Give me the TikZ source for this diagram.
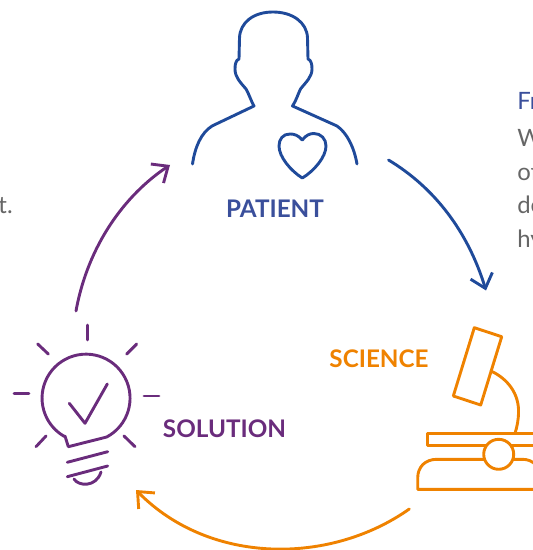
\documentclass[tikz,border=0pt]{standalone}
\usepackage{fontspec}
\setmainfont{Lato}
\usetikzlibrary{arrows.meta}
\definecolor{patientblue}{HTML}{1F4A9A}
\definecolor{patienttext}{HTML}{3A4F9B}
\definecolor{solutionpurple}{HTML}{6A2C7C}
\definecolor{scienceorange}{HTML}{EF8200}
\definecolor{bodygray}{HTML}{666666}
\tikzset{
    iconline/.style={line width=1.65pt,line cap=round,line join=round},
    cycle arrow/.style={iconline,-{Straight Barb[length=7.5pt,width=13pt,line width=1.65pt]}},
    steplabel/.style={font=\fontsize{13.8}{16}\selectfont\bfseries,inner sep=0pt},
    bodytext/.style={font=\fontsize{13.6}{15}\selectfont,text=bodygray,anchor=base west,inner sep=0pt}
}
\begin{document}
\begin{tikzpicture}[x=0.02cm,y=-0.02cm]
    \useasboundingbox (0,0) rectangle (533,550);
    % patient
    \draw[iconline,patientblue] (192.5,164) .. controls (195,147) and (201,133) .. (212,126) -- (254,106)
        .. controls (251,101) and (249,94) .. (246,89) .. controls (240,82) and (235,77) .. (235,69)
        .. controls (235,64) and (236,60) .. (239,59) -- (239.5,38)
        .. controls (240,22) and (254,12) .. (273,12) .. controls (292,12) and (307,22) .. (307.5,38)
        -- (308,59) .. controls (311,60) and (312,64) .. (312,69) .. controls (312,77) and (306,82) .. (300.5,89)
        .. controls (298,94) and (296,101) .. (292.5,106) -- (337,126)
        .. controls (347,133) and (354,147) .. (357,164);
    \draw[iconline,patientblue] (302.3,140) .. controls (298,135) and (294,134) .. (290,134)
        .. controls (283,134) and (279,139) .. (279,146) .. controls (279,157) and (291,171) .. (302.3,178)
        .. controls (314,171) and (326,157) .. (326,146) .. controls (326,139) and (321,133.5) .. (314,133.5)
        .. controls (310,133.5) and (306,135) .. (302.3,140);
    \node[steplabel,text=patienttext] (patient) at (275,208.5) {PATIENT};
    % science
    \node[steplabel,text=scienceorange] (science) at (379,358.5) {SCIENCE};
    \draw[iconline,scienceorange] (474.3,327.7) -- (501.7,336.7) -- (480.7,405) -- (453.3,396) -- cycle;
    \draw[iconline,scienceorange] (491,371) .. controls (508,379) and (519,394) .. (518.5,412) .. controls (518.5,420) and (517,427) .. (515,433.3);
    \draw[iconline,scienceorange] (540,433.3) -- (427.7,433.3) -- (427.7,445.7) -- (540,445.7);
    \draw[iconline,scienceorange] (484,459.3) -- (437,459.3) .. controls (425,459.3) and (417.7,467) .. (417.7,478) -- (417.7,489.3) -- (540,489.3);
    \draw[iconline,scienceorange] (513.5,459.3) -- (522,459.3) .. controls (528,459.3) and (532,461) .. (536,465);
    \draw[iconline,scienceorange,fill=white] (498.7,454.3) circle (15);
    % solution
    \node[steplabel,text=solutionpurple] (solution) at (224.5,428.5) {SOLUTION};
    \draw[iconline,solutionpurple] (65,436) -- (68.3,446.7) -- (106.7,437) arc[start angle=62,end angle=-242,radius=44];
    \draw[iconline,solutionpurple] (69.3,403.3) -- (85,423.3) -- (107.3,384);
    \draw[iconline,solutionpurple] (67.3,462.3) -- (107.7,451.7);
    \draw[iconline,solutionpurple] (67.3,476.7) -- (107.7,466);
    \draw[iconline,solutionpurple] (74,479) .. controls (78,486) and (96,488) .. (101,472);
    \draw[iconline,solutionpurple] (87.3,325) -- (87.3,340);
    \draw[iconline,solutionpurple] (136.7,344) -- (126.7,354);
    \draw[iconline,solutionpurple] (144,396) -- (159,396);
    \draw[iconline,solutionpurple] (124,436) -- (135,446.7);
    \draw[iconline,solutionpurple] (46,436) -- (36,446.7);
    \draw[iconline,solutionpurple] (14,393.3) -- (29,393.3);
    \draw[iconline,solutionpurple] (37.7,344) -- (48.3,354);
    % arrows
    \coordinate (patientout) at (388.5,160);
    \coordinate (sciencein) at (486,290.5);
    \coordinate (scienceout) at (409.3,509);
    \coordinate (solutionin) at (136,490);
    \coordinate (solutionout) at (76,311);
    \coordinate (patientin) at (170,165);
    \draw[cycle arrow,patientblue] (patientout) .. controls (435,188) and (468,232) .. (sciencein);
    \draw[cycle arrow,scienceorange] (scienceout) .. controls (330,565) and (210,565) .. (solutionin);
    \draw[cycle arrow,solutionpurple] (solutionout) .. controls (88,245) and (125,195) .. (patientin);
    % cut off text
    \node[bodytext,text=patienttext] (from) at (517,110) {Fr};
    \node[bodytext] (line a) at (517,147) {W};
    \node[bodytext] (line b) at (517,180.5) {of};
    \node[bodytext] (line c) at (517,214) {de};
    \node[bodytext] (line d) at (517,247.5) {hy};
    \node[bodytext,anchor=base east] (line e) at (13,214) {t.};
\end{tikzpicture}
\end{document}
